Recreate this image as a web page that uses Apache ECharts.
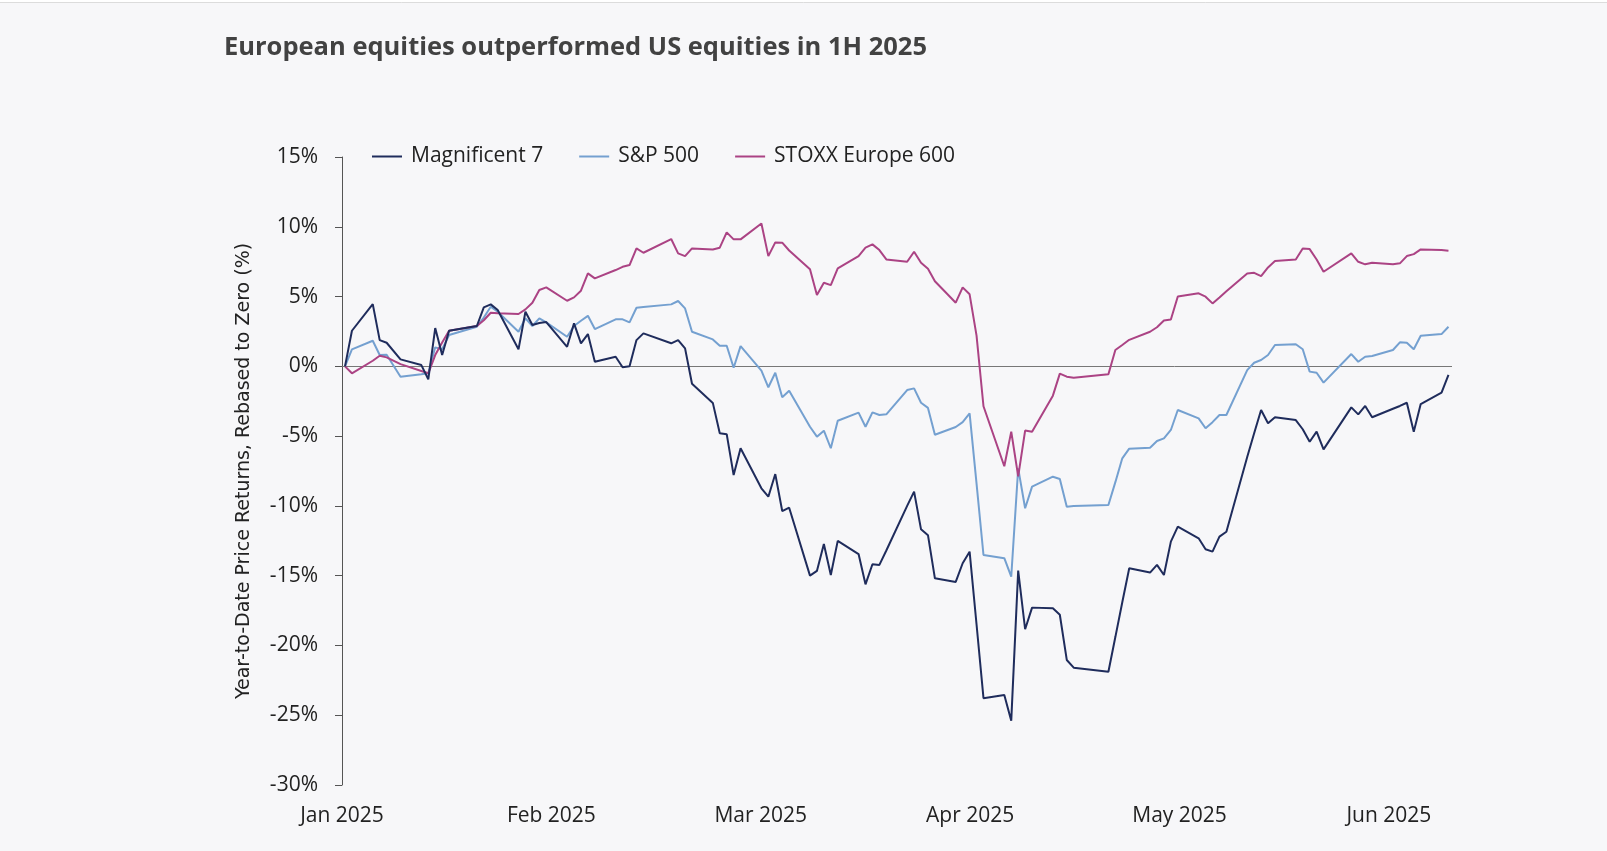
<!DOCTYPE html>
<html>
<head>
<meta charset="utf-8">
<script src="https://cdn.jsdelivr.net/npm/echarts@6/dist/echarts.min.js"></script>
<style>
  html, body { margin: 0; padding: 0; background: #f7f7f9; }
  #chart { width: 1607px; height: 851px; }
</style>
</head>
<body>
<div id="chart"></div>
<script>
// ---- Data ----
const dates = [
  '2025-01-02','2025-01-03','2025-01-06','2025-01-07','2025-01-08','2025-01-10','2025-01-13','2025-01-14','2025-01-15','2025-01-16',
  '2025-01-17','2025-01-21','2025-01-22','2025-01-23','2025-01-24','2025-01-27','2025-01-28','2025-01-29','2025-01-30','2025-01-31',
  '2025-02-03','2025-02-04','2025-02-05','2025-02-06','2025-02-07','2025-02-10','2025-02-11','2025-02-12','2025-02-13','2025-02-14',
  '2025-02-18','2025-02-19','2025-02-20','2025-02-21','2025-02-24','2025-02-25','2025-02-26','2025-02-27','2025-02-28',
  '2025-03-03','2025-03-04','2025-03-05','2025-03-06','2025-03-07','2025-03-10','2025-03-11','2025-03-12','2025-03-13','2025-03-14',
  '2025-03-17','2025-03-18','2025-03-19','2025-03-20','2025-03-21','2025-03-24','2025-03-25','2025-03-26','2025-03-27','2025-03-28','2025-03-31',
  '2025-04-01','2025-04-02','2025-04-03','2025-04-04','2025-04-07','2025-04-08','2025-04-09','2025-04-10','2025-04-11',
  '2025-04-14','2025-04-15','2025-04-16','2025-04-17','2025-04-22','2025-04-23','2025-04-24','2025-04-25','2025-04-28','2025-04-29','2025-04-30',
  '2025-05-01','2025-05-02','2025-05-05','2025-05-06','2025-05-07','2025-05-08','2025-05-09','2025-05-12','2025-05-13','2025-05-14',
  '2025-05-15','2025-05-16','2025-05-19','2025-05-20','2025-05-21','2025-05-22','2025-05-23','2025-05-27','2025-05-28','2025-05-29','2025-05-30',
  '2025-06-02','2025-06-03','2025-06-04','2025-06-05','2025-06-06','2025-06-09','2025-06-10'
];

const magnificent7 = [
  0, 2.55, 4.46, 1.88, 1.69, 0.5, 0.09, -0.93, 2.74, 0.81,
  2.55, 2.89, 4.22, 4.44, 4.03, 1.22, 3.91, 2.96, 3.1, 3.17,
  1.4, 3.08, 1.65, 2.31, 0.33, 0.69, -0.07, 0.0, 1.88, 2.36,
  1.65, 1.88, 1.29, -1.25, -2.62, -4.8, -4.86, -7.79, -5.87,
  -8.74, -9.34, -7.72, -10.37, -10.13, -15.0, -14.66, -12.73, -14.95, -12.51,
  -13.45, -15.62, -14.18, -14.23, -13.2, -10.0, -8.98, -11.68, -12.1, -15.19, -15.45,
  -14.11, -13.28, -18.5, -23.78, -23.55, -25.39, -14.64, -18.84, -17.29,
  -17.34, -17.8, -21.04, -21.59, -21.88, -19.4, -16.9, -14.47, -14.78, -14.23, -14.95,
  -12.56, -11.49, -12.32, -13.11, -13.28, -12.2, -11.85, -6.5, -4.8, -3.13,
  -4.08, -3.65, -3.85, -4.51, -5.4, -4.68, -5.95, -2.94, -3.44, -2.84, -3.65,
  -3.04, -2.84, -2.61, -4.68, -2.7, -1.89, -0.62
];

const sp500 = [
  0, 1.22, 1.83, 0.81, 0.83, -0.74, -0.57, -0.5, 1.36, 1.22,
  2.24, 2.84, 3.5, 4.27, 3.91, 2.48, 3.44, 2.89, 3.44, 3.15,
  2.12, 2.89, 3.27, 3.62, 2.67, 3.37, 3.37, 3.15, 4.2, 4.25,
  4.44, 4.68, 4.15, 2.48, 1.93, 1.48, 1.48, -0.1, 1.45,
  -0.31, -1.5, -0.46, -2.22, -1.75, -4.33, -5.04, -4.61, -5.87, -3.9,
  -3.32, -4.33, -3.3, -3.49, -3.44, -1.7, -1.58, -2.61, -2.98, -4.9, -4.35,
  -4.0, -3.37, -8.4, -13.52, -13.75, -15.07, -7.31, -10.17, -8.62,
  -7.91, -8.07, -10.06, -10.01, -9.94, -8.3, -6.59, -5.9, -5.83, -5.35, -5.16,
  -4.56, -3.13, -3.73, -4.44, -4.0, -3.49, -3.49, -0.27, 0.26, 0.45,
  0.81, 1.53, 1.58, 1.22, -0.38, -0.46, -1.17, 0.88, 0.33, 0.69, 0.74,
  1.17, 1.72, 1.69, 1.22, 2.19, 2.31, 2.84
];

const stoxxEurope600 = [
  0, -0.5, 0.4, 0.76, 0.64, 0.16, -0.33, -0.5, 0.81, 1.7,
  2.55, 2.89, 3.3, 3.84, 3.8, 3.75, 4.08, 4.56, 5.47, 5.66,
  4.7, 4.94, 5.42, 6.66, 6.3, 6.9, 7.13, 7.26, 8.45, 8.14,
  9.12, 8.09, 7.9, 8.45, 8.37, 8.5, 9.6, 9.1, 9.1,
  10.24, 7.9, 8.88, 8.86, 8.3, 6.95, 5.11, 5.99, 5.82, 7.02,
  7.9, 8.5, 8.74, 8.33, 7.66, 7.49, 8.21, 7.42, 7.0, 6.1, 4.56,
  5.66, 5.16, 2.2, -2.86, -7.16, -4.68, -7.88, -4.6, -4.68,
  -2.1, -0.52, -0.74, -0.82, -0.57, 1.17, 1.53, 1.9, 2.48, 2.8, 3.28,
  3.35, 5.0, 5.23, 4.99, 4.51, 4.94, 5.38, 6.66, 6.7, 6.47,
  7.09, 7.54, 7.66, 8.45, 8.4, 7.66, 6.78, 8.09, 7.49, 7.31, 7.42,
  7.31, 7.38, 7.9, 8.04, 8.38, 8.33, 8.28
];

const seriesNames = ['Magnificent 7', 'S&P 500', 'STOXX Europe 600'];
const tickLabels = ['Jan 2025', 'Feb 2025', 'Mar 2025', 'Apr 2025', 'May 2025', 'Jun 2025'];
const yTickValues = [15, 10, 5, 0, -5, -10, -15, -20, -25, -30];

// ---- Axis mapping (x = days from the axis origin) ----
const DAY = 86400000;
const ORIGIN = Date.UTC(2025, 0, 1) + 0.568 * DAY;   // axis start (just after 1 Jan)
const TICK_STEP = 30.17;                              // spacing of month labels, in days
function toX(d) {
  const p = d.split('-').map(Number);
  return (Date.UTC(p[0], p[1] - 1, p[2]) - ORIGIN) / DAY;
}
const pairs = arr => dates.map((d, i) => [toX(d), arr[i]]);

const FONT = "'Open Sans', 'Noto Sans', sans-serif";
const colors = ['#1f2c5c', '#74a0d0', '#ab4384'];

const chart = echarts.init(document.getElementById('chart'), null, { renderer: 'canvas' });
chart.setOption({
  animation: false,
  backgroundColor: '#f7f7f9',
  color: colors,
  title: {
    text: 'European equities outperformed US equities in 1H 2025',
    left: 219,
    top: 30,
    textStyle: { fontFamily: FONT, fontSize: 25.5, fontWeight: 'bold', color: '#424242' }
  },
  graphic: [
    { type: 'rect', shape: { x: 0, y: 0, width: 1607, height: 2 }, style: { fill: '#ffffff' }, silent: true },
    { type: 'line', shape: { x1: 0, y1: 2.5, x2: 1607, y2: 2.5 }, style: { stroke: '#dcdcdc', lineWidth: 1 }, silent: true }
  ],
  legend: {
    data: seriesNames,
    left: 367,
    top: 141,
    icon: 'rect',
    itemWidth: 30,
    itemHeight: 2,
    itemGap: 36,
    textStyle: { fontFamily: FONT, fontSize: 21, color: '#222', padding: [0, 0, 0, 4] }
  },
  grid: { left: 342, right: 155, top: 157, bottom: 66, containLabel: false },
  xAxis: {
    type: 'value',
    min: 0,
    max: 159.94,
    interval: TICK_STEP,
    axisLine: { show: false },
    axisTick: { show: false },
    splitLine: { show: false },
    axisLabel: {
      margin: 21,
      fontFamily: FONT,
      fontSize: 21,
      color: '#222',
      showMaxLabel: false,
      formatter: v => tickLabels[Math.round(v / TICK_STEP)] || ''
    }
  },
  yAxis: {
    type: 'value',
    min: yTickValues[yTickValues.length - 1],
    max: yTickValues[0],
    interval: 5,
    name: 'Year-to-Date Price Returns, Rebased to Zero (%)',
    nameLocation: 'middle',
    nameGap: 88,
    nameTextStyle: { fontFamily: "'DejaVu Sans', sans-serif", fontSize: 19, color: '#222' },
    axisLine: { show: true, lineStyle: { color: '#555', width: 1 } },
    axisTick: { show: true, length: 7, lineStyle: { color: '#555' } },
    splitLine: { show: false },
    axisLabel: {
      margin: 24,
      fontFamily: FONT,
      fontSize: 21,
      color: '#222',
      formatter: v => v + '%'
    }
  },
  series: [
    {
      name: seriesNames[0], type: 'line', data: pairs(magnificent7),
      showSymbol: false, symbol: 'none', lineStyle: { width: 2, color: colors[0] }, z: 4,
      markLine: {
        silent: true, symbol: 'none', label: { show: false },
        lineStyle: { color: '#777', width: 1, type: 'solid' },
        data: [{ yAxis: 0 }], z: 1
      }
    },
    {
      name: seriesNames[1], type: 'line', data: pairs(sp500),
      showSymbol: false, symbol: 'none', lineStyle: { width: 2, color: colors[1] }, z: 3
    },
    {
      name: seriesNames[2], type: 'line', data: pairs(stoxxEurope600),
      showSymbol: false, symbol: 'none', lineStyle: { width: 2, color: colors[2] }, z: 3
    }
  ]
});
</script>
</body>
</html>
